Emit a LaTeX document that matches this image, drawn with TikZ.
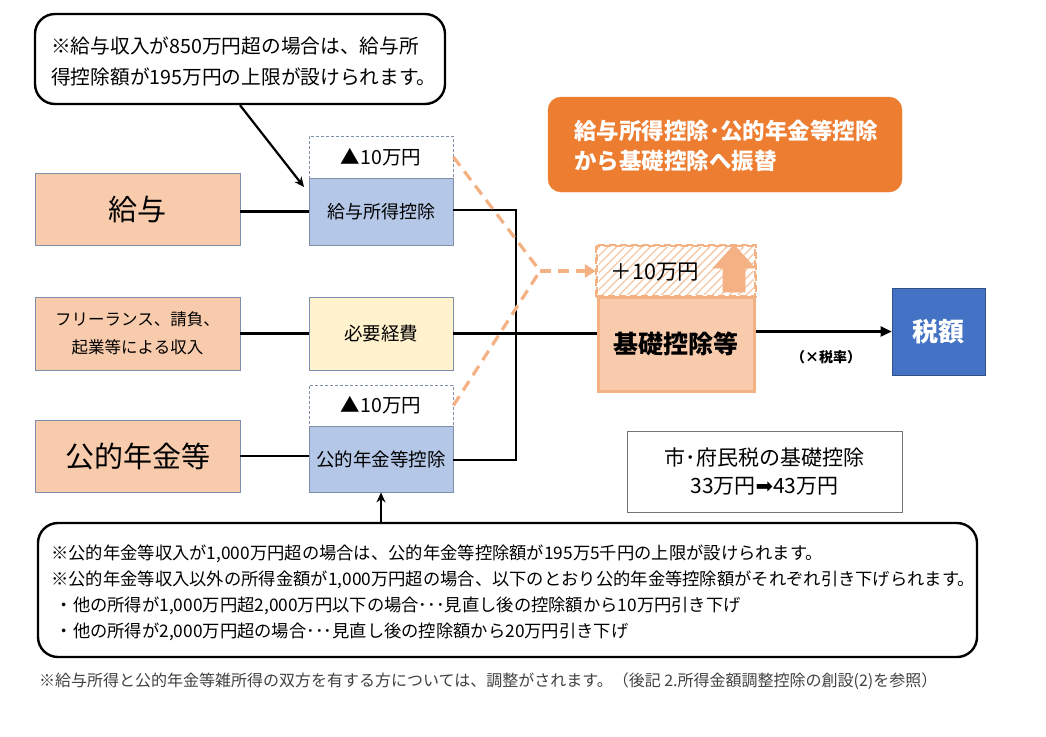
\documentclass[tikz,border=0pt]{standalone}
\usepackage{fontspec}
\setmainfont{Noto Sans CJK JP}
\newfontfamily\djv{DejaVu Sans}
\usetikzlibrary{arrows.meta,patterns.meta}
\definecolor{peach}{HTML}{F8CBAD}
\definecolor{lblue}{HTML}{B4C7E7}
\definecolor{lyellow}{HTML}{FFF2CC}
\definecolor{orng}{HTML}{ED7D31}
\definecolor{lorng}{HTML}{F4B183}
\definecolor{hatchc}{HTML}{F6C7A6}
\definecolor{dblue}{HTML}{4472C4}
\definecolor{edge}{HTML}{7F8FA9}
\definecolor{footc}{HTML}{404040}
\newcommand{\fsz}[2]{\fontsize{#1}{#2}\selectfont}
\begin{document}
\begin{tikzpicture}[x=1pt,y=-1pt,
  box/.style={draw=edge,line width=0.8pt,inner sep=0pt,align=center},
  inbox/.style={box,fill=peach,minimum width=205pt},
  dedbox/.style={box,fill=lblue,minimum width=144pt},
  genbox/.style={draw=edge,line width=0.8pt,dash pattern=on 3pt off 2pt,fill=white,inner sep=0pt,minimum width=144pt,align=center},
  callout/.style={draw=black,line width=2.4pt,rounded corners=20pt,fill=white,inner sep=0pt},
  conn/.style={line width=2.2pt,black},
  odash/.style={line width=3.2pt,lorng,dash pattern=on 11pt off 7pt},
  txt/.style={inner sep=0pt,align=left}
]
\useasboundingbox (0,0) rectangle (1046,736);

% top callout
\node[callout,minimum width=410pt,minimum height=90pt] (topcall) at (240,59) {};
\node[txt,anchor=west,font={\fsz{19.7}{31}}] (toptext) at (51,61) {※給与収入が850万円超の場合は、給与所\\得控除額が195万円の上限が設けられます。};

% input boxes
\node[inbox,minimum height=72pt,font={\fsz{29}{32}}] (kyuyo) at (137.5,209) {給与};
\node[inbox,minimum height=73pt,font={\fsz{16.5}{28}}] (free) at (137.5,333.5) {フリーランス、請負、\\起業等による収入};
\node[inbox,minimum height=72pt,font={\fsz{29}{32}}] (nenkin) at (137.5,456) {公的年金等};

% deduction boxes
\node[genbox,minimum height=42pt,font={\fsz{19.5}{20}}] (gen1) at (381,157) {▲10万円};
\node[dedbox,minimum height=67pt,font={\fsz{18}{20}}] (kyuded) at (381,211.5) {給与所得控除};
\node[box,fill=lyellow,minimum width=144pt,minimum height=73pt,font={\fsz{18.5}{20}}] (hitsuyo) at (381,333.5) {必要経費};
\node[genbox,minimum height=41pt,font={\fsz{19.5}{20}}] (gen2) at (381,405.5) {▲10万円};
\node[dedbox,minimum height=66pt,font={\fsz{18.5}{20}}] (nended) at (381,459) {公的年金等控除};

% orange note
\node[draw=orng,fill=orng,rounded corners=13pt,minimum width=354pt,minimum height=95pt,inner sep=0pt] (orange) at (725,144.5) {};
\node[txt,anchor=west,text=white,font={\bfseries\fsz{22.5}{30}}] (orangetext) at (574,146) {給与所得控除･公的年金等控除\\から基礎控除へ振替};

% kiso boxes
\node[draw=lorng,line width=2.4pt,dash pattern=on 7pt off 4pt,fill=white,minimum width=158pt,minimum height=50pt,inner sep=0pt] (hatchbg) at (676,271) {};
\node[pattern={Lines[angle=45,distance=6pt,line width=1.3pt]},pattern color=hatchc,minimum width=155pt,minimum height=47pt,inner sep=0pt] (hatch) at (676,271) {};
\draw[draw=lorng,line width=2.4pt,dash pattern=on 7pt off 4pt] (hatchbg.south west) rectangle (hatchbg.north east);
\node[txt,font={\fsz{21.5}{24}}] (plus) at (655,272) {＋10万円};
\draw[fill=lorng,draw=lorng,line width=0.6pt] (723,292) -- (723,268) -- (713,268) -- (734,245) -- (755,268) -- (745,268) -- (745,292) -- cycle;
\node[draw=lorng,line width=3pt,fill=peach,minimum width=156pt,minimum height=94pt,inner sep=0pt,font={\bfseries\fsz{25}{28}}] (kiso) at (676,344) {基礎控除等};

% tax
\node[draw=dblue!70!black,line width=0.6pt,fill=dblue,minimum width=93pt,minimum height=87pt,inner sep=0pt,text=white,font={\bfseries\fsz{26}{28}}] (zei) at (938.5,331.5) {税額};
\node[txt,font={\bfseries\fsz{14}{16}}] (rate) at (826,357) {（×税率）};

% city tax box
\node[draw=black!55,line width=0.9pt,fill=white,minimum width=275pt,minimum height=81pt,inner sep=0pt,align=center,font={\fsz{21}{28}}] (shifu) at (764.5,471.5) {市･府民税の基礎控除\\33万円{\djv ➡}43万円};

% bottom callout
\node[callout,minimum width=939pt,minimum height=134pt] (botcall) at (507.5,590) {};
\node[txt,anchor=west,font={\fsz{17.3}{26}}] (bottext) at (51,593) {※公的年金等収入が1,000万円超の場合は、公的年金等控除額が195万5千円の上限が設けられます。\\
※公的年金等収入以外の所得金額が1,000万円超の場合、以下のとおり公的年金等控除額がそれぞれ引き下げられます。\\
\hspace*{4.5pt}・他の所得が1,000万円超2,000万円以下の場合･･･見直し後の控除額から10万円引き下げ\\
\hspace*{4.5pt}・他の所得が2,000万円超の場合･･･見直し後の控除額から20万円引き下げ};

% footer
\node[txt,anchor=west,text=footc,font={\fsz{16}{18}}] (foot) at (39,681) {※給与所得と公的年金等雑所得の双方を有する方については、調整がされます。（後記 2.所得金額調整控除の創設(2)を参照）};

% connectors
\coordinate (c1) at (516,210);
\coordinate (c2) at (516,460);
\draw[conn] (kyuyo.east |- kyuded.west) -- (kyuded.west);
\draw[conn] (free.east) -- (hitsuyo.west);
\draw[conn] (nenkin.east) -- (nended.west |- nenkin.east);
\draw[conn] (kyuded.east |- c1) -- (c1) -- (c2) -- (nended.east |- c2);
\draw[conn] (hitsuyo.east) -- (kiso.west |- hitsuyo.east);
\draw[conn,-{Triangle[length=11pt,width=10pt]}] (kiso.east |- zei.west) -- (zei.west);

% dashed transfer lines
\coordinate (j) at (540,271);
\draw[odash] (gen1.east) -- (j);
\draw[odash] (gen2.east) -- (j);
\draw[odash,-{Triangle[length=11pt,width=13pt,sep=0pt]}] (j) -- (hatchbg.west);

% callout arrows
\coordinate (ta) at (304,187);
\draw[line width=2.2pt,-{Stealth[length=10pt,width=9pt]}] (topcall.south) -- (ta);
\draw[line width=2.2pt,-{Stealth[length=10pt,width=9pt]}] (botcall.north -| nended.south) -- (nended.south);
\end{tikzpicture}
\end{document}
